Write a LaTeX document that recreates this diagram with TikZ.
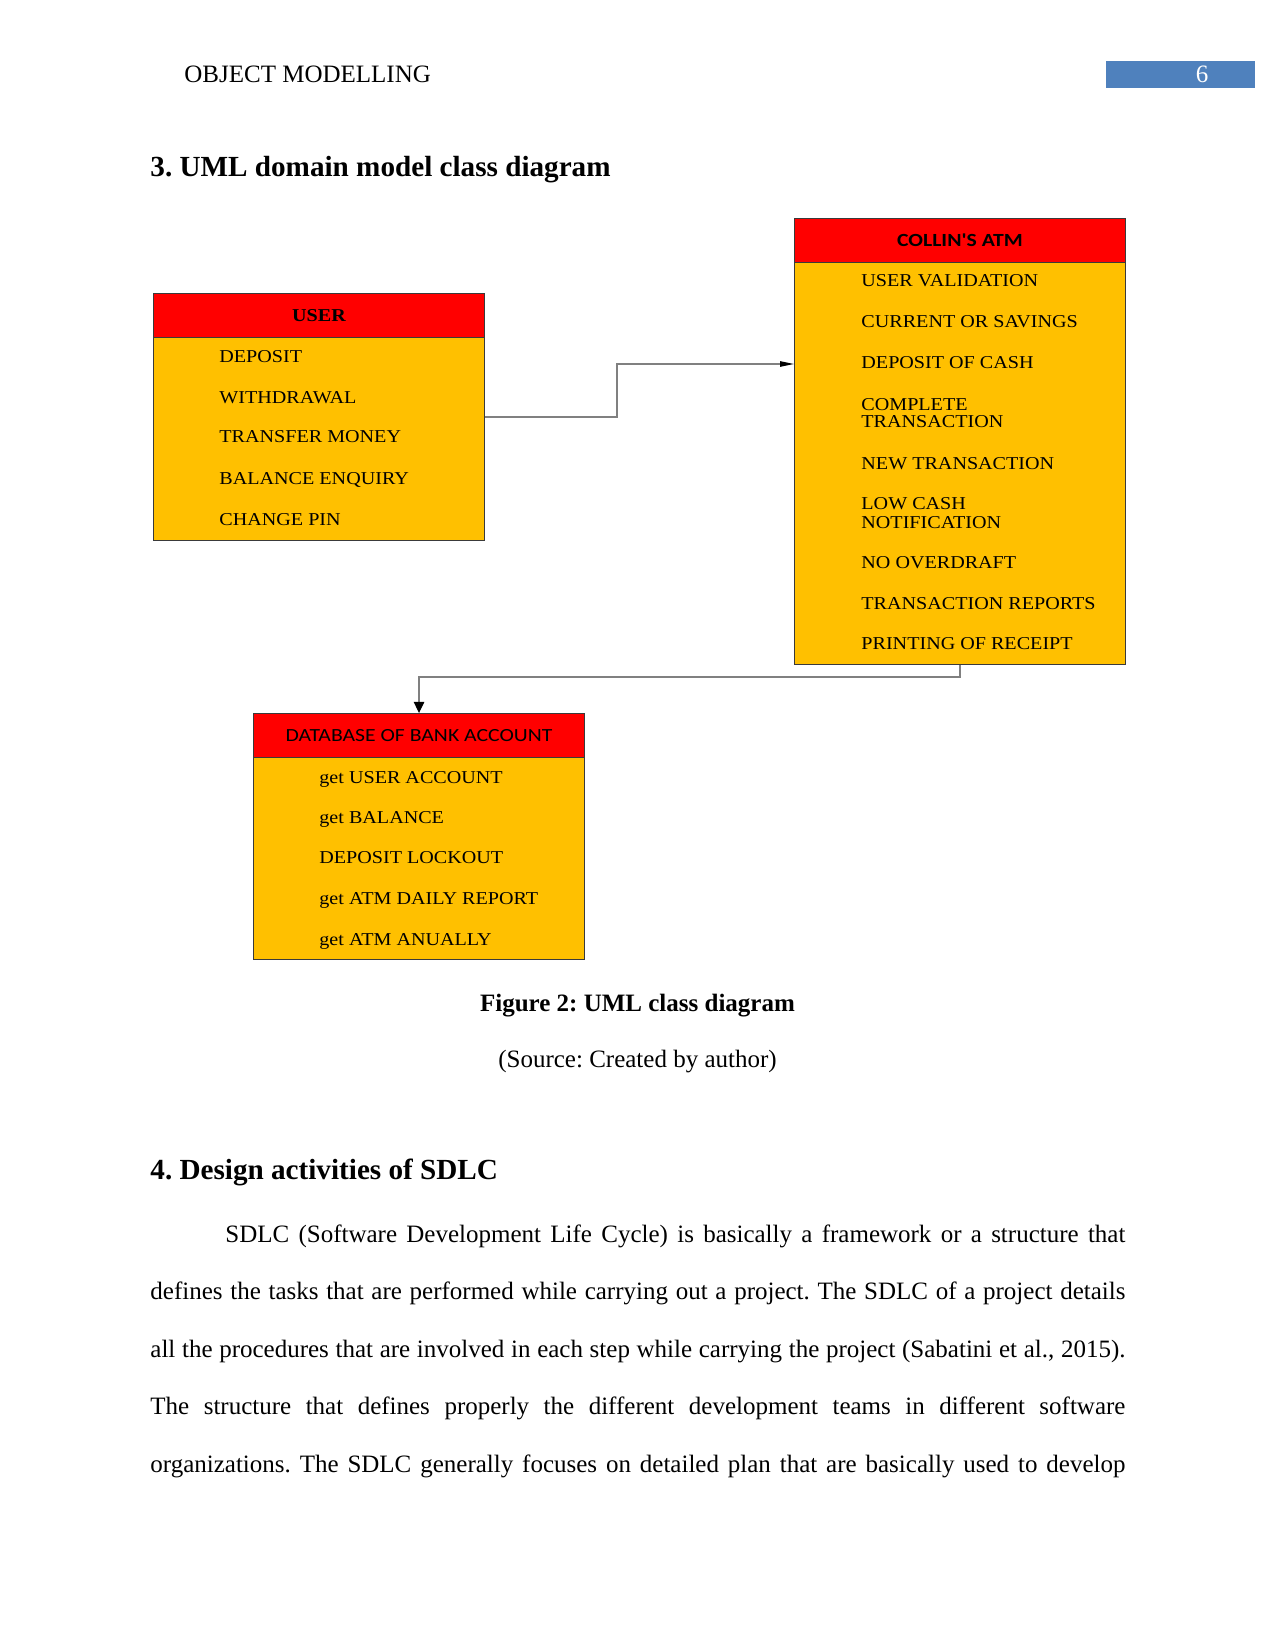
\documentclass[tikz,border=0pt]{standalone}
\usepackage{fontspec}
\setmainfont{Liberation Serif}
\newfontfamily\boxserif{Liberation Serif}[FakeStretch=1.11]
\newfontfamily\boxsans{Carlito}[FakeStretch=1.17]
\usetikzlibrary{arrows.meta}
\definecolor{hdrred}{HTML}{FF0000}
\definecolor{bodyorange}{HTML}{FFC000}
\definecolor{pageblue}{HTML}{4F81BD}
\definecolor{connGray}{HTML}{808080}
\definecolor{edgeDark}{HTML}{3A3A3A}
\tikzset{
  classbody/.style={draw=edgeDark, line width=0.5pt, fill=bodyorange, inner sep=0pt, anchor=north west, minimum width=331*0.48pt},
  classhead/.style={draw=edgeDark, line width=0.5pt, fill=hdrred, inner sep=0pt, anchor=north west, minimum width=331*0.48pt, minimum height=44*0.48pt},
  item/.style={anchor=base west, inner sep=0pt, font=\boxserif\fontsize{8.7}{10}\selectfont, text=black},
  ttl/.style={inner sep=0pt, text=black},
  conn/.style={draw=connGray, line width=0.55pt},
  txt/.style={anchor=base west, inner sep=0pt, font=\fontsize{12}{14}\selectfont},
}
\begin{document}
\frenchspacing
\begin{tikzpicture}[x=0.48pt,y=-0.48pt]
\useasboundingbox (0,0) rectangle (1275,1650);
\fill[white] (0,0) rectangle (1275,1650);

% page header
\node[txt] (runhead) at (184,83) {OBJECT MODELLING};
\node[fill=pageblue, inner sep=0pt, anchor=north west, minimum width=149*0.48pt, minimum height=27*0.48pt] (pgbox) at (1106,61) {};
\node[inner sep=0pt, anchor=base, text=white, font=\fontsize{12}{14}\selectfont] (pgnum) at (1202,83) {6};

% section heading
\node[anchor=base west, inner sep=0pt, font=\bfseries\fontsize{14}{16}\selectfont] (sec3) at (150,177) {3. UML domain model class diagram};

% USER class
\node[classbody, minimum height=247*0.48pt] (user) at (153,293) {};
\node[classhead] (userh) at (153,293) {};
\node[ttl, font=\boxserif\bfseries\fontsize{8.7}{10}\selectfont] (usert) at (userh.center) {USER};
\node[item] (u1) at (219,363) {DEPOSIT};
\node[item] (u2) at (219,404) {WITHDRAWAL};
\node[item] (u3) at (219,443) {TRANSFER MONEY};
\node[item] (u4) at (219,484) {BALANCE ENQUIRY};
\node[item] (u5) at (219,525) {CHANGE PIN};

% COLLIN'S ATM class
\node[classbody, minimum height=446*0.48pt] (atm) at (794,218) {};
\node[classhead] (atmh) at (794,218) {};
\node[ttl, font=\boxsans\bfseries\fontsize{8.9}{10}\selectfont] (atmt) at (atmh.center) {COLLIN'S ATM};
\node[item] (a1) at (861,287) {USER VALIDATION};
\node[item] (a2) at (861,328) {CURRENT OR SAVINGS};
\node[item] (a3) at (861,369) {DEPOSIT OF CASH};
\node[item] (a4) at (861,410) {COMPLETE};
\node[item] (a4b) at (861,428) {TRANSACTION};
\node[item] (a5) at (861,469) {NEW TRANSACTION};
\node[item] (a6) at (861,509) {LOW CASH};
\node[item] (a6b) at (861,528) {NOTIFICATION};
\node[item] (a7) at (861,568) {NO OVERDRAFT};
\node[item] (a8) at (861,609) {TRANSACTION REPORTS};
\node[item] (a9) at (861,649) {PRINTING OF RECEIPT};

% DATABASE class
\node[classbody, minimum height=246*0.48pt] (db) at (253,713) {};
\node[classhead] (dbh) at (253,713) {};
\node[ttl, font=\boxsans\fontsize{8.9}{10}\selectfont] (dbt) at (dbh.center) {DATABASE OF BANK ACCOUNT};
\node[item] (d1) at (319,783) {get USER ACCOUNT};
\node[item] (d2) at (319,823) {get BALANCE};
\node[item] (d3) at (319,863) {DEPOSIT LOCKOUT};
\node[item] (d4) at (319,904) {get ATM DAILY REPORT};
\node[item] (d5) at (319,945) {get ATM ANUALLY};

% connectors
\coordinate (j1) at (617,364);
\coordinate (j2) at (0,677);
\draw[conn, -{Triangle[length=6.7pt, width=2.6pt, color=black]}] (user.east) -| (j1) -- (j1 -| atm.west);
\draw[conn, -{Triangle[length=5.3pt, width=5pt, color=black]}] (atm.south) -- (atm.south |- j2) -- (db.north |- j2) -- (db.north);

% caption
\node[anchor=base, inner sep=0pt, font=\bfseries\fontsize{12}{14}\selectfont] (cap) at (637.5,1011) {Figure 2: UML class diagram};
\node[anchor=base, inner sep=0pt, font=\fontsize{12}{14}\selectfont] (src) at (637.5,1067) {(Source: Created by author)};

% section 4
\node[anchor=base west, inner sep=0pt, font=\bfseries\fontsize{14}{16}\selectfont] (sec4) at (150,1179) {4. Design activities of SDLC};

\node[txt] (l1) at (225,1242) {\makebox[432pt][s]{SDLC (Software Development Life Cycle) is basically a framework or a structure that}};
\node[txt] (l2) at (150,1299.5) {\makebox[468pt][s]{defines the tasks that are performed while carrying out a project. The SDLC of a project details}};
\node[txt] (l3) at (150,1357) {\makebox[468pt][s]{all the procedures that are involved in each step while carrying the project (Sabatini et al., 2015).}};
\node[txt] (l4) at (150,1414.5) {\makebox[468pt][s]{The structure that defines properly the different development teams in different software}};
\node[txt] (l5) at (150,1472) {\makebox[468pt][s]{organizations. The SDLC generally focuses on detailed plan that are basically used to develop}};
\end{tikzpicture}
\end{document}
